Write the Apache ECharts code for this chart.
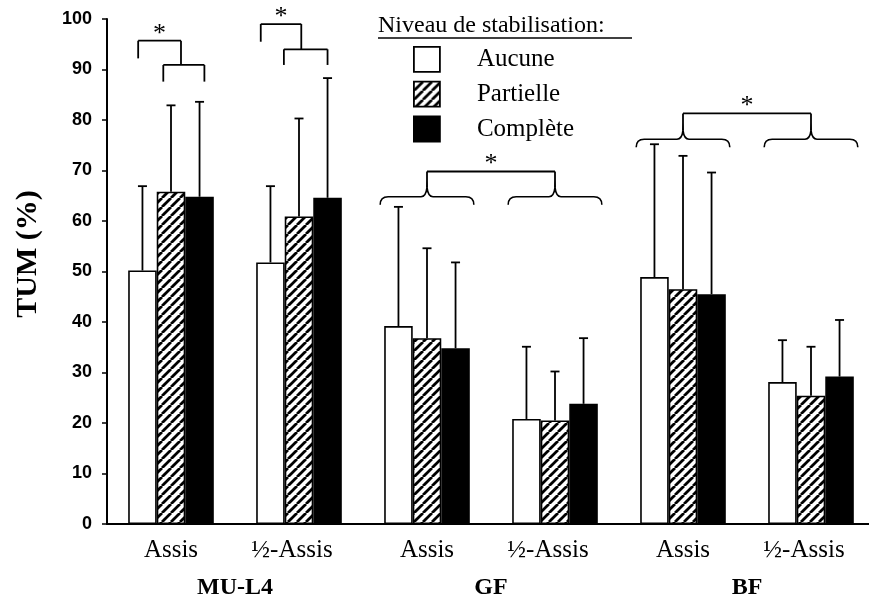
<!DOCTYPE html>
<html>
<head>
<meta charset="utf-8">
<script src="https://cdn.jsdelivr.net/npm/echarts@6/dist/echarts.min.js"></script>
<style>
  html, body { margin: 0; padding: 0; background: #fff; }
  #chart { width: 869px; height: 600px; }
</style>
</head>
<body>
<div id="chart"></div>
<script>
// Muscles and postures (x axis, two levels)
const muscles = ['MU-L4', 'GF', 'BF'];
const postures = ['Assis', '½-Assis'];
const yTicks = { min: 0, max: 100, step: 10 };

// Stabilisation levels (series)
const levelNames = ['Aucune', 'Partielle', 'Complète'];

// Mean TUM (%) per muscle/posture, in x order
const aucuneMean    = [50.2, 51.8, 39.2, 20.8, 48.9, 28.1];
const partielleMean = [65.8, 60.9, 36.8, 20.5, 46.5, 25.4];
const completeMean  = [64.8, 64.6, 34.8, 23.8, 45.5, 29.2];

// Standard deviations (upper whisker only)
const aucuneSD    = [16.7, 15.1, 23.6, 14.3, 26.3, 8.3];
const partielleSD = [17.1, 19.4, 17.8, 9.7, 26.4, 9.7];
const completeSD  = [18.8, 23.7, 17.0, 13.0, 24.1, 11.2];

// Significance brackets inside a posture group:
// [category, from bar slot, to bar slot, bar height, left leg end, right leg end, star]
const groupBrackets = [
  [0, 0.73, 2.17, 90.9, 87.6, 87.6, 0],
  [0, -0.15, 1.35, 95.7, 92.2, 90.9, 1],
  [1, 0.47, 2.0, 94.0, 90.9, 90.9, 0],
  [1, -0.34, 1.08, 99.0, 95.5, 94.0, 1]
];
// Curly braces over a whole posture group: [category, brace level, tip level]
const groupBraces = [
  [2, 64.8, 66.7],
  [3, 64.8, 66.7],
  [4, 76.2, 78.0],
  [5, 76.2, 78.0]
];
// Brackets joining two braces: [first category, second category, bar height, leg end]
const postureBrackets = [
  [2, 3, 69.8, 66.7],
  [4, 5, 81.3, 78.0]
];

const categories = [];
muscles.forEach(m => postures.forEach(p => categories.push(m + '|' + p)));

const BAR_FRAC = 0.223;          // width of one bar relative to the category band
const SERIF = '"Liberation Serif", "Times New Roman", serif';
const SANS = '"Liberation Sans", Arial, sans-serif';

function hatchPattern() {
  const s = 9;
  const c = document.createElement('canvas');
  c.width = s; c.height = s;
  const g = c.getContext('2d');
  g.fillStyle = '#fff';
  g.fillRect(0, 0, s, s);
  g.strokeStyle = '#000';
  g.lineWidth = 2.8;
  g.beginPath();
  for (let k = -1; k <= 1; k++) {
    g.moveTo(k * s, s);
    g.lineTo(k * s + s, 0);
  }
  g.stroke();
  return { image: c, repeat: 'repeat' };
}

const fills = ['#ffffff', hatchPattern(), '#000000'];
const means = [aucuneMean, partielleMean, completeMean];
const sds = [aucuneSD, partielleSD, completeSD];

const barSeries = levelNames.map((name, i) => ({
  name: name,
  type: 'bar',
  data: means[i],
  barWidth: (BAR_FRAC * 100) + '%',
  barGap: '0%',
  itemStyle: { color: fills[i], borderColor: '#000', borderWidth: 1.6 },
  emphasis: { disabled: true }
}));

// Error bar data: [category, series index, mean, mean + sd]
const errData = [];
means.forEach((arr, s) => arr.forEach((m, c) => errData.push([c, s, m, m + sds[s][c]])));

const line = (x1, y1, x2, y2) => ({
  type: 'line',
  shape: { x1, y1, x2, y2 },
  style: { stroke: '#000', lineWidth: 1.8 }
});

function slotX(api, cat, slot) {
  const band = api.size([1, 0])[0];
  return api.coord([cat, 0])[0] + (slot - 1) * band * BAR_FRAC;
}

const star = (x, yTop) => ({
  type: 'text',
  style: {
    text: '*', x: x, y: yTop - 7, font: '26px ' + SERIF,
    fill: '#000', align: 'center', verticalAlign: 'middle'
  }
});

const errorSeries = {
  type: 'custom',
  data: errData,
  encode: { x: 0, y: 3 },
  silent: true,
  z: 5,
  renderItem: function (params, api) {
    const c = api.value(0), s = api.value(1);
    const x = slotX(api, c, s);
    const y0 = api.coord([c, api.value(2)])[1];
    const y1 = api.coord([c, api.value(3)])[1];
    return { type: 'group', children: [line(x, y0, x, y1), line(x - 4.5, y1, x + 4.5, y1)] };
  }
};

const groupBracketSeries = {
  type: 'custom',
  data: groupBrackets,
  encode: { x: 0, y: 3 },
  silent: true,
  z: 5,
  renderItem: function (params, api) {
    const c = api.value(0);
    const xa = slotX(api, c, api.value(1));
    const xb = slotX(api, c, api.value(2));
    const yt = api.coord([c, api.value(3)])[1];
    const ya = api.coord([c, api.value(4)])[1];
    const yb = api.coord([c, api.value(5)])[1];
    const kids = [line(xa, ya, xa, yt), line(xa, yt, xb, yt), line(xb, yt, xb, yb)];
    if (api.value(6)) kids.push(star((xa + xb) / 2, yt));
    return { type: 'group', children: kids };
  }
};

const braceSeries = {
  type: 'custom',
  data: groupBraces,
  encode: { x: 0, y: 2 },
  silent: true,
  z: 5,
  renderItem: function (params, api) {
    const c = api.value(0);
    const band = api.size([1, 0])[0];
    const hw = band * BAR_FRAC * 1.5 + 4;
    const cx = api.coord([c, 0])[0];
    const yb = api.coord([c, api.value(1)])[1];
    const yp = api.coord([c, api.value(2)])[1];
    const d = 8;
    const p = 'M' + (cx - hw) + ' ' + (yb + d) +
      ' Q' + (cx - hw) + ' ' + yb + ' ' + (cx - hw + 8) + ' ' + yb +
      ' L' + (cx - 6) + ' ' + yb +
      ' Q' + (cx - 1) + ' ' + yb + ' ' + cx + ' ' + yp +
      ' Q' + (cx + 1) + ' ' + yb + ' ' + (cx + 6) + ' ' + yb +
      ' L' + (cx + hw - 8) + ' ' + yb +
      ' Q' + (cx + hw) + ' ' + yb + ' ' + (cx + hw) + ' ' + (yb + d);
    return {
      type: 'path',
      shape: { pathData: p },
      style: { stroke: '#000', fill: null, lineWidth: 1.6 }
    };
  }
};

const postureBracketSeries = {
  type: 'custom',
  data: postureBrackets,
  encode: { x: 0, y: 2 },
  silent: true,
  z: 5,
  renderItem: function (params, api) {
    const xa = api.coord([api.value(0), 0])[0];
    const xb = api.coord([api.value(1), 0])[0];
    const yt = api.coord([api.value(0), api.value(2)])[1];
    const yl = api.coord([api.value(0), api.value(3)])[1];
    return {
      type: 'group',
      children: [line(xa, yl, xa, yt), line(xa, yt, xb, yt), line(xb, yt, xb, yl), star((xa + xb) / 2, yt)]
    };
  }
};

const chart = echarts.init(document.getElementById('chart'), null, { renderer: 'canvas' });
chart.setOption({
  animation: false,
  backgroundColor: '#fff',
  // the category band runs a little past the right edge of the canvas
  grid: { left: 107, width: 768, top: 19, bottom: 76, containLabel: false, outerBoundsMode: 'none' },
  legend: {
    data: levelNames,
    orient: 'vertical',
    left: 408,
    top: 41,
    itemWidth: 26,
    itemHeight: 25,
    itemGap: 8,
    icon: 'rect',
    selectedMode: false,
    itemStyle: { borderColor: '#000', borderWidth: 1.8 },
    textStyle: { fontFamily: SERIF, fontSize: 25, color: '#000', padding: [0, 0, 0, 32] }
  },
  xAxis: [
    {
      type: 'category',
      data: categories,
      position: 'bottom',
      axisLine: { lineStyle: { color: '#000', width: 2 } },
      axisTick: { length: 5, lineStyle: { color: '#000', width: 1.5 } },
      axisLabel: {
        interval: 0,
        margin: 14, fontFamily: SERIF, fontSize: 25, color: '#000',
        formatter: v => {
          const p = v.split('|')[1];
          return p === postures[1] ? '{half|' + p + '}' : p;
        },
        rich: {
          half: { fontFamily: SERIF, fontSize: 25, color: '#000', padding: [0, 14, 0, 0] }
        }
      }
    },
    {
      type: 'category',
      data: muscles,
      position: 'bottom',
      offset: 0,
      axisLine: { show: false },
      axisTick: { show: false },
      axisLabel: { interval: 0, margin: 52, fontFamily: SERIF, fontSize: 24, fontWeight: 'bold', color: '#000' }
    }
  ],
  yAxis: {
    type: 'value',
    min: yTicks.min,
    max: yTicks.max,
    interval: yTicks.step,
    splitLine: { show: false },
    axisLine: { show: true, lineStyle: { color: '#000', width: 2 } },
    axisTick: { show: true, length: 5, lineStyle: { color: '#000', width: 1.5 } },
    axisLabel: { margin: 15, fontFamily: SANS, fontSize: 18, fontWeight: 'bold', color: '#000' }
  },
  graphic: [
    {
      type: 'text',
      x: 28, y: 254, rotation: Math.PI / 2,
      style: {
        text: 'TUM (%)', font: 'bold 30px ' + SERIF, fill: '#000',
        align: 'center', verticalAlign: 'middle'
      }
    },
    {
      type: 'text',
      x: 378, y: 26,
      style: {
        text: 'Niveau de stabilisation:', font: '24px ' + SERIF, fill: '#000',
        align: 'left', verticalAlign: 'middle'
      }
    },
    {
      type: 'line',
      shape: { x1: 378, y1: 38, x2: 632, y2: 38 },
      style: { stroke: '#000', lineWidth: 1.5 }
    }
  ],
  series: barSeries.concat([errorSeries, groupBracketSeries, braceSeries, postureBracketSeries])
});
</script>
</body>
</html>
